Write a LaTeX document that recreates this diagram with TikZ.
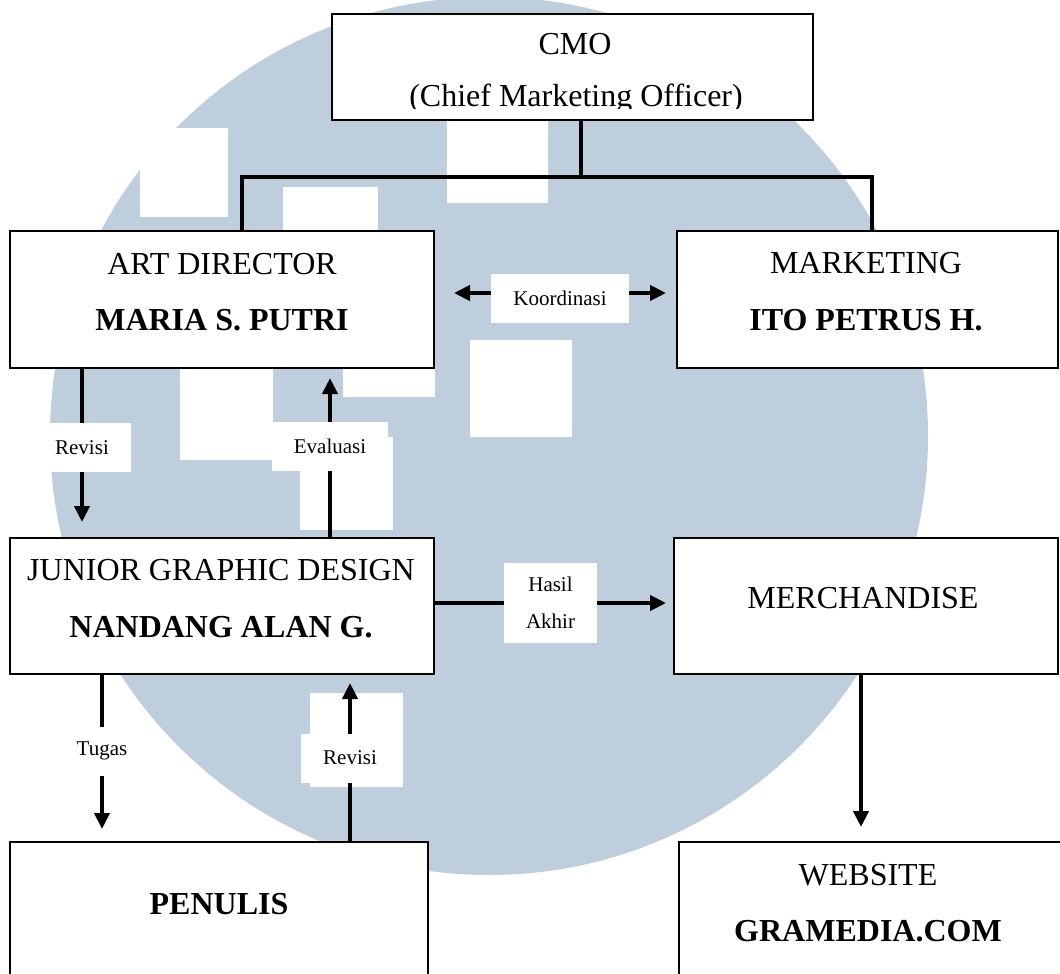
\documentclass[tikz,border=0pt]{standalone}
\usepackage{fontspec}
\setmainfont{Liberation Serif}
\usetikzlibrary{arrows.meta,calc,positioning,fit}
\definecolor{seal}{HTML}{BFCEDC}
\tikzset{>={Triangle[length=8pt,width=7.5pt]},
  every node/.style={font=\fontsize{16}{28}\selectfont},
  unit/.style={draw=black,line width=1pt,fill=white,inner sep=0pt},
  role/.style={anchor=base,inner sep=0pt},
  person/.style={role,font=\fontsize{16}{28}\selectfont\bfseries},
  tree/.style={draw=black,line width=2pt},
  flow/.style={->,draw=black,line width=2pt},
  tag/.style={fill=white,inner xsep=11pt,inner ysep=7pt,minimum height=24.5pt,
    align=center,font=\fontsize{10.5}{18.5}\selectfont}}

\begin{document}
\begin{tikzpicture}[x=.5pt,y=-.5pt]
\path[use as bounding box] (0,0) rectangle (1060,974);
% watermark behind the chart
\fill[seal] (489,436) circle[radius=219.5pt];
\foreach \xa/\ya/\xb/\yb in {140/128/228/217,283/187/378/231,447/120/548/203,
  180/368/273/460,343/368/435/397,470/340/572/437,300/437/393/530,310/693/403/787}
  \fill[white] (\xa,\ya) rectangle (\xb,\yb);
% boxes
\node[unit,fit={(332,14) (813,120)}] (cmo) {};
\node[unit,fit={(10,231) (434,368)}] (art) {};
\node[unit,fit={(677,231) (1058,368)}] (mkt) {};
\node[unit,fit={(10,538) (434,674)}] (jgd) {};
\node[unit,fit={(674,538) (1058,674)}] (merch) {};
\node[unit,fit={(10,842) (428,1000)}] (pen) {};
\node[unit,fit={(679,842) (1075,1000)}] (web) {};
% texts
\node[role] (cmoname) at (575,55) {CMO};
\begin{scope}
\clip (332,14) rectangle (813,108.5);
\node[role] (cmofull) at (576,107) {(Chief Marketing Officer)};
\end{scope}
\node[role] (artrole) at (222,274) {ART DIRECTOR};
\node[person] (artname) at (222,330) {MARIA S. PUTRI};
\node[role] (mktrole) at (866,273) {MARKETING};
\node[person] (mktname) at (866,330) {ITO PETRUS H.};
\node[role] (jgdrole) at (221,580) {JUNIOR GRAPHIC DESIGN};
\node[person] (jgdname) at (221,637) {NANDANG ALAN G.};
\node[role] (merchrole) at (863,608) {MERCHANDISE};
\node[person] (penname) at (219,914) {PENULIS};
\node[role] (webrole) at (868,885) {WEBSITE};
\node[person] (webname) at (868,941) {GRAMEDIA.COM};
% lines
\coordinate (bus) at (581,177);
\coordinate (busL) at (242,177);
\coordinate (busR) at (872,177);
\draw[tree] (cmo.south -| bus) -- (bus);
\draw[tree] (busL |- art.north) -- (busL) -- (busR) -- (busR |- mkt.north);
\draw[flow,<->] ([xshift=9.5pt,yshift=3.25pt]art.east) -- node[tag,yshift=-2.5pt]{Koordinasi} ([xshift=-5pt,yshift=3.25pt]mkt.west);
\draw[flow] ([yshift=1.5pt]jgd.east) -- node[tag]{Hasil\\Akhir} ([xshift=-3.5pt,yshift=1.5pt]merch.west);
\draw[flow,shorten >=7.5pt] (art.south -| 82,0) -- node[tag,pos=.47]{Revisi} (jgd.north -| 82,0);
\draw[flow,shorten >=4.5pt] (jgd.north -| 330,0) -- node[tag,pos=.54]{Evaluasi} (art.south -| 330,0);
\draw[flow,shorten >=6pt] (jgd.south -| 102,0) -- node[tag,pos=.46]{Tugas} (pen.north -| 102,0);
\draw[flow,shorten >=4pt] (pen.north -| 350,0) -- node[tag]{Revisi} (jgd.south -| 350,0);
\draw[flow,shorten >=7pt] (merch.south -| 861,0) -- (web.north -| 861,0);
\end{tikzpicture}
\end{document}
